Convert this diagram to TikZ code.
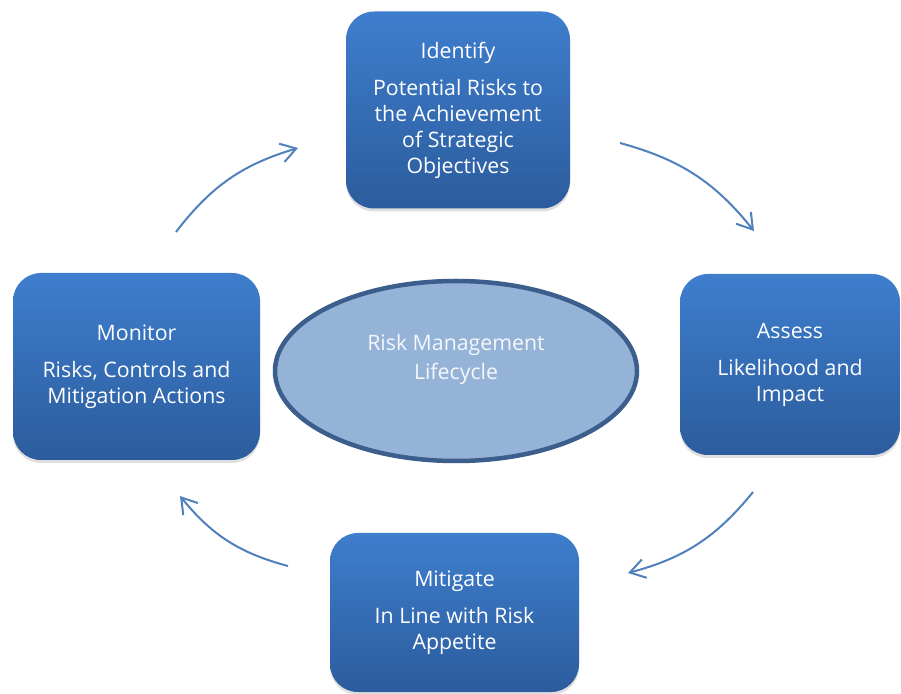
\documentclass[tikz,border=0pt]{standalone}
\usepackage{fontspec}
\setmainfont{Open Sans}
\usetikzlibrary{shapes.geometric,arrows.meta,shadows}
\definecolor{boxtop}{RGB}{62,126,205}
\definecolor{boxbot}{RGB}{44,92,157}
\definecolor{arrowblue}{RGB}{79,129,189}
\definecolor{ellfill}{RGB}{149,179,215}
\definecolor{elldraw}{RGB}{59,94,140}
\definecolor{elltext}{RGB}{244,247,252}
\tikzset{
  stagebox/.style={rectangle, rounded corners=28pt, inner sep=0pt,
    top color=boxtop, bottom color=boxbot, text=white, align=center,
    font=\fontsize{21.3pt}{26pt}\selectfont,
    drop shadow={opacity=0.25, shadow xshift=0pt, shadow yshift=-3pt}},
  cyclearrow/.style={draw=arrowblue, line width=2pt, bend left=18,
    -{Straight Barb[length=15pt,width=19pt]}},
}
\begin{document}
\begin{tikzpicture}[x=1pt,y=1pt]
\useasboundingbox (0,0) rectangle (901,693);
\fill[white] (0,0) rectangle (901,693);
\node[stagebox, minimum width=224pt, minimum height=197pt] (identify) at (458,583)
  {Identify\\[11pt]Potential Risks to\\the Achievement\\of Strategic\\Objectives};
\node[stagebox, minimum width=220pt, minimum height=181pt] (assess) at (790,328.5)
  {Assess\\[11pt]Likelihood and\\Impact};
\node[stagebox, minimum width=247pt, minimum height=187pt] (monitor) at (136.5,326.5)
  {Monitor\\[11pt]Risks, Controls and\\Mitigation Actions};
\node[stagebox, minimum width=249pt, minimum height=159pt] (mitigate) at (454.5,80.5)
  {Mitigate\\[11pt]In Line with Risk\\Appetite};
\node[ellipse, fill=ellfill, draw=elldraw, line width=4.5pt,
  minimum width=362pt, minimum height=180pt] (lifecycle) at (456,322) {};
\node[text=elltext, align=center, font=\fontsize{21.3pt}{29pt}\selectfont]
  (lifecycletxt) at (456,334) {Risk Management\\Lifecycle};
\coordinate (a1s) at (176,461);
\coordinate (a1e) at (298,545);
\coordinate (a2s) at (620,550);
\coordinate (a2e) at (754,462);
\coordinate (a3s) at (753,201);
\coordinate (a3e) at (628,120);
\coordinate (a4s) at (288,127);
\coordinate (a4e) at (180,197);
\draw[cyclearrow] (a1s) to (a1e);
\draw[cyclearrow] (a2s) to (a2e);
\draw[cyclearrow] (a3s) to (a3e);
\draw[cyclearrow] (a4s) to (a4e);
\end{tikzpicture}
\end{document}
